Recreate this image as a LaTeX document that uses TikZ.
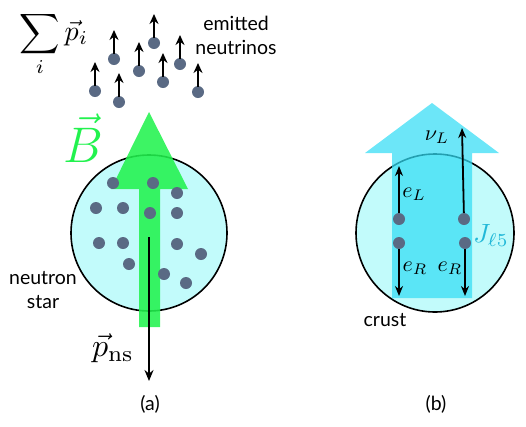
\RequirePackage{fix-cm}
\documentclass[tikz,border=0pt]{standalone}
\usepackage{fontspec}
\newfontfamily\labelfont{Lato}
\usetikzlibrary{arrows.meta,positioning}
\definecolor{cielo}{HTML}{C2FBFB}
\definecolor{campo}{HTML}{22F24E}
\definecolor{corriente}{HTML}{33DDF5}
\definecolor{punto}{HTML}{5A6A84}
\definecolor{jcol}{HTML}{22B8D8}

\begin{document}
\begin{tikzpicture}[x=1pt,y=-1pt,>=Stealth,
  dot/.style={circle,fill=punto,inner sep=0pt,minimum size=12pt},
  star/.style={draw=black,line width=1.6pt,fill=cielo},
  txt/.style={font=\labelfont\fontsize{19.5}{24}\selectfont},
  mth/.style={scale=2.2,transform shape},
  nu/.style={-{Stealth[length=10pt,width=9pt]},line width=2.4pt,shorten <=-1pt},
  lep/.style={-{Stealth[length=10pt,width=8pt]},line width=1.8pt}]
\useasboundingbox (0,0) rectangle (526,426);

% (a) neutron star with magnetic field
\node[star,circle,minimum size=156pt,inner sep=0pt] (ns) at (149,233) {};
\fill[campo,opacity=0.88] (139,327) -- (139,189) -- (111,189) -- (149,112)
  -- (188,189) -- (160,189) -- (160,327) -- cycle;
\foreach \i/\x/\y in {1/113/183,2/153/183,3/177/193,4/96/208,5/123/208,
  6/150/213,7/177/213,8/99/243,9/123/243,10/177/244,11/201/254,
  12/129/264,13/164/274,14/186/283}
  \node[dot] (n\i) at (\x,\y) {};
\coordinate (pfrom) at (149,237);
\coordinate (pto) at (149,381);
\draw[-{Stealth[length=11pt,width=9pt]},line width=2pt] (pfrom) -- (pto);

% emitted neutrinos
\foreach \i/\x/\y in {1/114/59,2/154/43,3/139/71,4/180/64,5/95/91,
  6/119/102,7/163/82,8/198/92} {
  \node[dot] (v\i) at (\x,\y) {};
  \coordinate (vt\i) at (\x,\y-29);
  \draw[nu] (v\i) -- (vt\i);
}

\node[scale=2.8,transform shape,anchor=west,inner sep=0pt] (sum) at (19,44)
  {$\displaystyle\sum_i \vec{p}_i$};
\node[txt,align=center] (emit) at (236,35) {emitted\\neutrinos};
\node[font=\fontsize{50}{56}\selectfont,text=campo,inner sep=0pt] (B) at (83,138) {$\vec{B}$};
\node[txt,align=center] (nslab) at (43,290) {neutron\\star};
\node[scale=3.2,transform shape] (pns) at (113,348) {$\vec{p}_{\mathrm{ns}}$};
\node[txt] (la) at (150,404) {(a)};

% (b) crust with lepton current
\node[star,circle,minimum size=158pt,inner sep=0pt] (cr) at (435,233) {};
\fill[corriente,opacity=0.72] (392,298) -- (392,153) -- (365,153) -- (432,103)
  -- (499,153) -- (472,153) -- (472,298) -- cycle;
\node[dot] (eL) at (399,219) {};
\node[dot] (eR) at (399,243) {};
\node[dot] (nuL) at (464,219) {};
\node[dot] (eR2) at (465,243) {};
\coordinate (eLt) at (399,166);
\coordinate (eRt) at (399,296);
\coordinate (nuLt) at (462,128);
\coordinate (eR2t) at (465,296);
\draw[lep] (eL) -- (eLt);
\draw[lep] (eR) -- (eRt);
\draw[lep] (nuL) -- (nuLt);
\draw[lep] (eR2) -- (eR2t);

\node[mth] (eLlab) at (414,194) {$e_L$};
\node[mth] (eRlab) at (415,268) {$e_R$};
\node[mth] (eR2lab) at (450,268) {$e_R$};
\node[mth] (nulab) at (437,137) {$\nu_L$};
\node[mth,scale=1.2,text=jcol] (J) at (491,235) {$J_{\ell5}$};
\node[txt] (crust) at (385,320) {crust};
\node[txt] (lb) at (436,404) {(b)};
\end{tikzpicture}
\end{document}
